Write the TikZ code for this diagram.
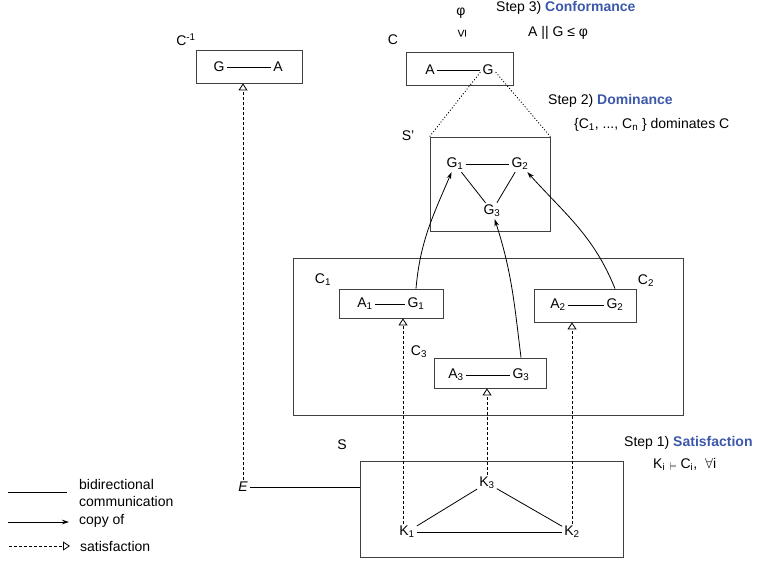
\documentclass[tikz,border=0pt]{standalone}
\usepackage{fontspec}
\setmainfont{Liberation Sans}
\usepackage{graphicx}
\usetikzlibrary{arrows.meta}

\definecolor{stepblue}{RGB}{60,88,170}

\tikzset{
  box/.style={draw=black!75, line width=0.8pt, inner sep=0pt},
  link/.style={line width=0.8pt},
  copyof/.style={line width=0.8pt, -{Stealth[length=7pt,width=4.5pt]}},
  sat/.style={line width=0.8pt, dash pattern=on 3pt off 2pt, -{Triangle[open,length=7pt,width=9pt]}},
  proj/.style={line width=0.9pt, dash pattern=on 1pt off 2pt},
}

\begin{document}
\begin{tikzpicture}[x=1pt, y=-1pt, every node/.style={font=\fontsize{14}{17}\selectfont, inner sep=2pt}]
\useasboundingbox (0,0) rectangle (757,563);

% inverse contract
\node[box, minimum width=106pt, minimum height=33pt] (cinvbox) at (249,66.5) {};
\node (cinv) at (186,40) {C\textsuperscript{-1}};
\node (ginv) at (219,67) {G};
\node (ainv) at (278,67) {A};
\draw[link] (ginv) -- (ainv);

% contract C
\node[box, minimum width=107pt, minimum height=33pt] (cbox) at (459.5,68.5) {};
\node (c) at (393,40) {C};
\node (ac) at (430,70) {A};
\node (gc) at (488,70) {G};
\draw[link] (ac) -- (gc);

\node (phi) at (461,13) {φ};
\node (leq) at (462,34) {\rotatebox{90}{≤}};
\node[anchor=west] (step3) at (494,8) {Step 3) \textcolor{stepblue}{\textbf{Conformance}}};
\node[anchor=west] (conf) at (526,33) {A || G ≤ φ};

% S'
\node[box, minimum width=120pt, minimum height=94pt] (sprimebox) at (490,184) {};
\node (sprime) at (408,136) {S'};
\node (g1s) at (455,164) {G\textsubscript{1}};
\node (g2s) at (520,164) {G\textsubscript{2}};
\node (g3s) at (492,211) {G\textsubscript{3}};
\draw[link] (g1s) -- (g2s);
\draw[link] (g1s) -- (g3s);
\draw[link] (g2s) -- (g3s);

\draw[proj] ([yshift=5pt]gc.south west) -- (sprimebox.north west);
\draw[proj] ([yshift=5pt]gc.south east) -- (sprimebox.north east);

\node[anchor=west] (step2) at (546,101) {Step 2) \textcolor{stepblue}{\textbf{Dominance}}};
\node[anchor=west] (dom) at (572,125) {\{C\textsubscript{1}, ..., C\textsubscript{n} \} dominates C};

% composition of C1, C2, C3
\node[box, minimum width=390pt, minimum height=157pt] (cbig) at (488,336.5) {};

\node[box, minimum width=104pt, minimum height=29pt] (c1box) at (391,303.5) {};
\node (c1) at (323,280) {C\textsubscript{1}};
\node (a1) at (365,304) {A\textsubscript{1}};
\node (g1c) at (416,304) {G\textsubscript{1}};
\draw[link] (a1) -- (g1c);

\node[box, minimum width=102pt, minimum height=33pt] (c2box) at (585,305.5) {};
\node (c2) at (646,281) {C\textsubscript{2}};
\node (a2) at (558,305) {A\textsubscript{2}};
\node (g2c) at (615,305) {G\textsubscript{2}};
\draw[link] (a2) -- (g2c);

\node[box, minimum width=112pt, minimum height=30pt] (c3box) at (490,373) {};
\node (c3) at (419,352) {C\textsubscript{3}};
\node (a3) at (456,375) {A\textsubscript{3}};
\node (g3c) at (521,375) {G\textsubscript{3}};
\draw[link] (a3) -- (g3c);

\draw[copyof] (g1c |- c1box.north) to[out=85, in=-113] (g1s);
\draw[copyof] (g3c |- c3box.north) to[out=97, in=-72] (g3s);
\draw[copyof] (g2c |- c2box.north) to[out=112, in=-48] (g2s);

% system S
\node[box, minimum width=263pt, minimum height=96pt] (sbox) at (491.5,509) {};
\node (s) at (342,445) {S};
\node (k3) at (487,483) {K\textsubscript{3}};
\node (k1) at (407,532) {K\textsubscript{1}};
\node (k2) at (572,532) {K\textsubscript{2}};
\draw[link] (k1) -- (k2);
\draw[link] (k1) -- (k3);
\draw[link] (k3) -- (k2);

\node (e) at (243,487) {\textit{E}};
\draw[link] (e) -- (e -| sbox.west);

\coordinate (k1top) at ([xshift=-4pt]k1.north);
\draw[sat] (e) -- (e |- cinvbox.south);
\draw[sat] (k1top) -- (k1top |- c1box.south);
\draw[sat] (k3) -- (k3 |- c3box.south);
\draw[sat] (k2) -- (k2 |- c2box.south);

\node[anchor=west] (step1) at (622,443) {Step 1) \textcolor{stepblue}{\textbf{Satisfaction}}};
\node[anchor=west] (satrule) at (651,464) {K\textsubscript{i} {\footnotesize$\models$} C\textsubscript{i}, \ $\forall$i};

% legend
\coordinate (l1a) at (8,492);
\coordinate (l1b) at (67,492);
\coordinate (l2a) at (8,522);
\coordinate (l2b) at (69,522);
\coordinate (l3a) at (9,546);
\coordinate (l3b) at (70,546);
\draw[link] (l1a) -- (l1b);
\draw[copyof] (l2a) -- (l2b);
\draw[sat] (l3a) -- (l3b);
\node[anchor=west, align=left] (lbidir) at (77,493) {bidirectional\\communication};
\node[anchor=west] (lcopy) at (77,521) {copy of};
\node[anchor=west] (lsat) at (78,546) {satisfaction};

\end{tikzpicture}
\end{document}
